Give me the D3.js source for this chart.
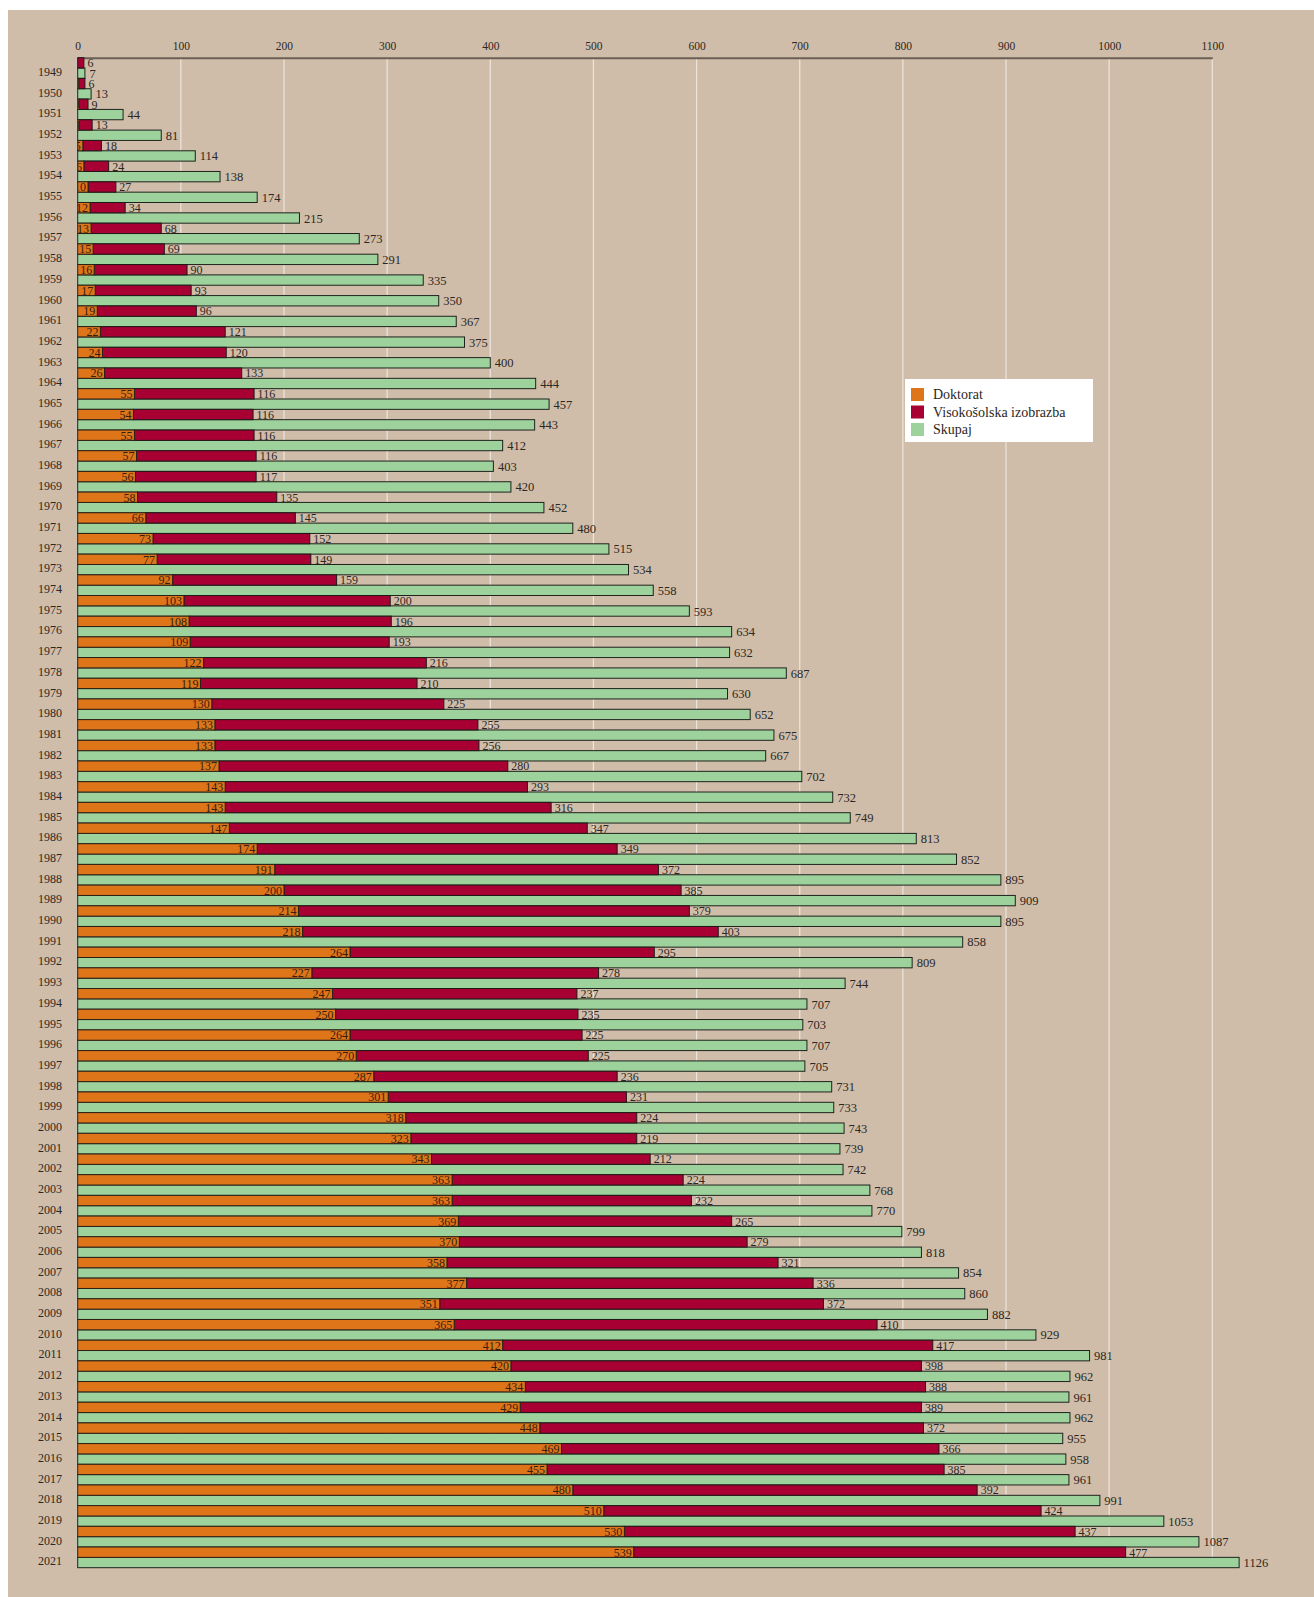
<!DOCTYPE html>
<html>
<head>
<meta charset="utf-8">
<script src="https://cdn.jsdelivr.net/npm/d3@7"></script>
<style>
  html, body { margin: 0; padding: 0; background: #ffffff; }
  svg { display: block; }
</style>
</head>
<body>
<svg id="chart"></svg>
<script>
const years = d3.range(1949, 2022)
const doktorat = [0, 1, 1, 1, 5, 6, 10, 12, 13, 15, 16, 17, 19, 22, 24, 26, 55, 54, 55, 57, 56, 58, 66, 73, 77, 92, 103, 108, 109, 122, 119, 130, 133, 133, 137, 143, 143, 147, 174, 191, 200, 214, 218, 264, 227, 247, 250, 264, 270, 287, 301, 318, 323, 343, 363, 363, 369, 370, 358, 377, 351, 365, 412, 420, 434, 429, 448, 469, 455, 480, 510, 530, 539]
const visokosolska = [6, 6, 9, 13, 18, 24, 27, 34, 68, 69, 90, 93, 96, 121, 120, 133, 116, 116, 116, 116, 117, 135, 145, 152, 149, 159, 200, 196, 193, 216, 210, 225, 255, 256, 280, 293, 316, 347, 349, 372, 385, 379, 403, 295, 278, 237, 235, 225, 225, 236, 231, 224, 219, 212, 224, 232, 265, 279, 321, 336, 372, 410, 417, 398, 388, 389, 372, 366, 385, 392, 424, 437, 477]
const skupaj = [7, 13, 44, 81, 114, 138, 174, 215, 273, 291, 335, 350, 367, 375, 400, 444, 457, 443, 412, 403, 420, 452, 480, 515, 534, 558, 593, 634, 632, 687, 630, 652, 675, 667, 702, 732, 749, 813, 852, 895, 909, 895, 858, 809, 744, 707, 703, 707, 705, 731, 733, 743, 739, 742, 768, 770, 799, 818, 854, 860, 882, 929, 981, 962, 961, 962, 955, 958, 961, 991, 1053, 1087, 1126]
const ticks = [0, 100, 200, 300, 400, 500, 600, 700, 800, 900, 1000, 1100]
const legendLabels = ["Doktorat", "Visokošolska izobrazba", "Skupaj"]

const width = 1314
const height = 1597
const colors = { dok: "#df7519", vis: "#a80032", sku: "#9dd29d" }
const font = "'Liberation Serif', 'DejaVu Serif', serif"
const ink = "#2b2723"

const data = years.map((y, i) => ({
    year: y,
    dok: doktorat[i],
    vis: visokosolska[i],
    sku: skupaj[i]
}))

const svg = d3.select("#chart")
    .attr("width", width)
    .attr("height", height)
    .style("font-family", font)

// background panel
svg.append("rect")
    .attr("x", 8).attr("y", 10)
    .attr("width", width - 8).attr("height", height - 10)
    .attr("fill", "#d0bda9")

const plotTop = 57.7, plotBottom = 1567.7
const x = d3.scaleLinear()
    .domain([0, 1100])
    .range([77.7, 1212.3])

const y = d3.scaleBand()
    .domain(years)
    .range([plotTop, plotBottom])
    .padding(0)
const half = y.bandwidth() / 2

// grid lines
svg.append("g")
    .selectAll("line")
    .data(ticks.filter(t => t > 0))
    .join("line")
    .attr("x1", d => x(d)).attr("x2", d => x(d))
    .attr("y1", plotTop).attr("y2", plotBottom)
    .attr("stroke", "#ece5dd")
    .attr("stroke-width", 1.2)

svg.append("line")
    .attr("x1", x(0) - 0.8).attr("x2", x(0) - 0.8)
    .attr("y1", plotTop).attr("y2", plotBottom)
    .attr("stroke", "#c9c2ba")
    .attr("stroke-width", 1.4)

// top axis
const axis = svg.append("g")
    .attr("transform", `translate(0, ${plotTop})`)
    .call(d3.axisTop(x).tickValues(ticks).tickFormat(d3.format("d")).tickSize(0).tickPadding(8))
axis.select(".domain")
    .attr("stroke", "#6b6055")
    .attr("stroke-width", 2)
axis.selectAll("text")
    .attr("fill", ink)
    .style("font-family", font)
    .style("font-size", "11.5px")

// year labels
svg.append("g")
    .selectAll("text")
    .data(data)
    .join("text")
    .attr("x", 62)
    .attr("y", d => y(d.year) + y.bandwidth() * 0.885)
    .attr("text-anchor", "end")
    .attr("fill", ink)
    .style("font-size", "12px")
    .text(d => d.year)

const rows = svg.append("g")
    .selectAll("g")
    .data(data)
    .join("g")

const defs = svg.append("defs")

// Skupaj bars
rows.append("rect")
    .attr("x", x(0))
    .attr("y", d => y(d.year) + half)
    .attr("width", d => x(d.sku) - x(0))
    .attr("height", half)
    .attr("fill", colors.sku)
    .attr("stroke", "#1e221c")
    .attr("stroke-width", 1)

// visokosolska bars (stacked after doktorat)
rows.append("rect")
    .attr("x", d => x(d.dok))
    .attr("y", d => y(d.year))
    .attr("width", d => x(d.dok + d.vis) - x(d.dok))
    .attr("height", half)
    .attr("fill", colors.vis)
    .attr("stroke", "#1e1a18")
    .attr("stroke-width", 1)

// doktorat bars
rows.filter(d => d.dok > 0).append("rect")
    .attr("x", x(0))
    .attr("y", d => y(d.year))
    .attr("width", d => x(d.dok) - x(0))
    .attr("height", half)
    .attr("fill", colors.dok)
    .attr("stroke", "#2a2118")
    .attr("stroke-width", 1)

// clip paths so doktorat numbers stay inside their bar
defs.selectAll("clipPath")
    .data(data.filter(d => d.dok > 0))
    .join("clipPath")
    .attr("id", d => "clip" + d.year)
    .append("rect")
    .attr("x", x(0))
    .attr("y", d => y(d.year))
    .attr("width", d => x(d.dok) - x(0))
    .attr("height", half)

rows.filter(d => d.dok > 0).append("text")
    .attr("clip-path", d => `url(#clip${d.year})`)
    .attr("x", d => x(d.dok) - 2)
    .attr("y", d => y(d.year) + half / 2)
    .attr("dy", "0.36em")
    .attr("text-anchor", "end")
    .attr("fill", "#33200f")
    .style("font-size", "12px")
    .text(d => d.dok)

rows.append("text")
    .attr("x", d => x(d.dok + d.vis) + 3.5)
    .attr("y", d => y(d.year) + half / 2)
    .attr("dy", "0.36em")
    .attr("fill", ink)
    .style("font-size", "12px")
    .text(d => d.vis)

rows.append("text")
    .attr("x", d => x(d.sku) + 4.5)
    .attr("y", d => y(d.year) + half * 1.5)
    .attr("dy", "0.36em")
    .attr("fill", ink)
    .style("font-size", "12.5px")
    .text(d => d.sku)

// legend
const legend = svg.append("g").attr("transform", "translate(905, 379)")
legend.append("rect")
    .attr("width", 188).attr("height", 63)
    .attr("fill", "#ffffff")
const legendColors = [colors.dok, colors.vis, colors.sku]
legendLabels.forEach((lab, i) => {
    legend.append("rect")
        .attr("x", 6).attr("y", 9 + i * 17.5)
        .attr("width", 13).attr("height", 13)
        .attr("fill", legendColors[i])
    legend.append("text")
        .attr("x", 28).attr("y", 20 + i * 17.5)
        .attr("fill", ink)
        .style("font-size", "14px")
        .text(lab)
})
</script>
</body>
</html>
